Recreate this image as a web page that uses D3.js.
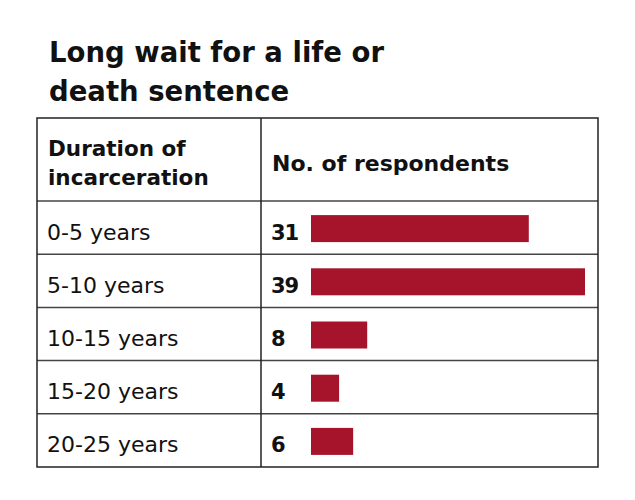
<!DOCTYPE html>
<html><head><meta charset="utf-8">
<script src="https://cdn.jsdelivr.net/npm/d3@7"></script>
<style>body{margin:0;background:#fff}svg{display:block}</style>
</head><body>
<script>
const categories = ["0-5 years","5-10 years","10-15 years","15-20 years","20-25 years"];
const values = [31,39,8,4,6];
const titleLines = ["Long wait for a life or","death sentence"];
const headerLeft = ["Duration of","incarceration"];
const headerRight = "No. of respondents";

const W=635,H=500;
const font="'DejaVu Sans', sans-serif";
const svg=d3.select("body").append("svg").attr("width",W).attr("height",H);

svg.selectAll("text.title").data(titleLines).join("text")
  .attr("x",49).attr("y",(d,i)=>62+i*39)
  .attr("font-family",font).attr("font-weight",700).attr("font-size",27.5)
  .attr("fill","#111").text(d=>d);

const tL=37,tR=598,tTop=118,hdrBottom=201,tBottom=467,colX=261;
const y=d3.scaleBand().domain(categories).range([hdrBottom,tBottom]);
const x=d3.scaleLinear().domain([0,39]).range([311,585]);

// header text
svg.selectAll("text.hl").data(headerLeft).join("text")
  .attr("x",48).attr("y",(d,i)=>156+i*29)
  .attr("font-family",font).attr("font-weight",700).attr("font-size",21.5)
  .attr("fill","#111").text(d=>d);
svg.append("text").attr("x",272).attr("y",171)
  .attr("font-family",font).attr("font-weight",700).attr("font-size",22)
  .attr("fill","#111").text(headerRight);

// row lines
svg.selectAll("line.row").data(categories).join("line")
  .attr("x1",tL).attr("x2",tR).attr("y1",d=>y(d)).attr("y2",d=>y(d))
  .attr("stroke","#444").attr("stroke-width",1.5);
// col line
svg.append("line").attr("x1",colX).attr("x2",colX).attr("y1",tTop).attr("y2",tBottom)
  .attr("stroke","#222").attr("stroke-width",1.5);
// outer border
svg.append("rect").attr("x",tL).attr("y",tTop).attr("width",tR-tL).attr("height",tBottom-tTop)
  .attr("fill","none").attr("stroke","#222").attr("stroke-width",1.5);

const bh=27;
svg.selectAll("rect.bar").data(values).join("rect")
  .attr("x",x(0)).attr("width",d=>x(d)-x(0))
  .attr("y",(d,i)=>y(categories[i])+y.bandwidth()/2-bh/2+1).attr("height",bh)
  .attr("fill","#a6142b");

svg.selectAll("text.cat").data(categories).join("text")
  .attr("x",47).attr("y",d=>y(d)+y.bandwidth()/2+12)
  .attr("font-family",font).attr("font-size",22).attr("fill","#111").text(d=>d);
svg.selectAll("text.val").data(values).join("text")
  .attr("x",271).attr("y",(d,i)=>y(categories[i])+y.bandwidth()/2+12)
  .attr("font-family",font).attr("font-weight",700).attr("font-size",21).attr("letter-spacing",-1).attr("fill","#111").text(d=>d);
</script>
</body></html>
